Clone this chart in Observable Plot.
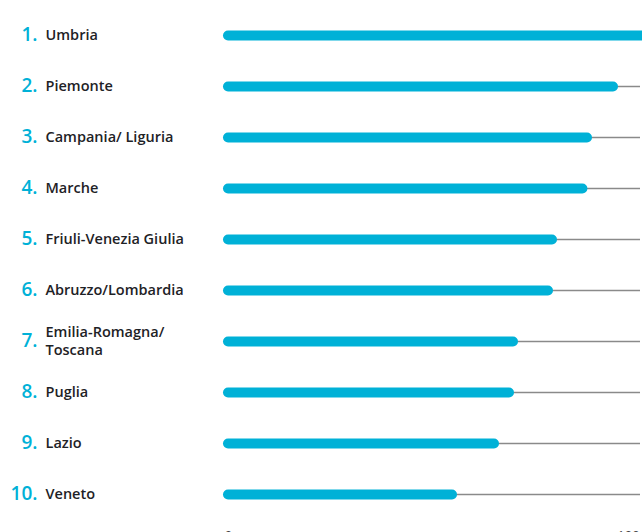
<!DOCTYPE html>
<html>
<head>
<meta charset="utf-8">
<script src="https://cdn.jsdelivr.net/npm/d3@7"></script>
<script src="https://cdn.jsdelivr.net/npm/@observablehq/plot@0.6"></script>
<style>
  html, body { margin: 0; padding: 0; background: #fff; overflow: hidden; }
  #chart svg { display: block; }
</style>
</head>
<body>
<div id="chart"></div>
<script>
const ranks = ["1.", "2.", "3.", "4.", "5.", "6.", "7.", "8.", "9.", "10."];
const regions = ["Umbria", "Piemonte", "Campania/ Liguria", "Marche", "Friuli-Venezia Giulia",
  "Abruzzo/Lombardia", "Emilia-Romagna/\nToscana", "Puglia", "Lazio", "Veneto"];
const values = [104, 96.25, 89.75, 88.6, 81, 80, 71.25, 70.25, 66.5, 56];
const trackEnd = 103;
const axisTicks = [0, 100];

const data = regions.map((r, i) => ({ region: r, rank: ranks[i], value: values[i] }));

const chart = Plot.plot({
  width: 642,
  height: 560,
  marginLeft: 228,
  marginRight: 0,
  marginTop: 0,
  marginBottom: 40,
  style: { fontFamily: "'Open Sans', sans-serif", color: "#222", background: "#fff" },
  x: { domain: [0, 103.5], axis: null },
  y: { type: "point", domain: regions, range: [34, 494.5], padding: 0, axis: null },
  marks: [
    Plot.ruleY(data, { y: "region", x1: "value", x2: trackEnd, stroke: "#8a8a8a", strokeWidth: 1.5 }),
    Plot.ruleY(data, { y: "region", x1: 0, x2: "value", stroke: "#00b1d7", strokeWidth: 10, strokeLinecap: "round" }),
    Plot.text(data, { y: "region", x: 0, dx: -191, dy: -1, text: "rank", textAnchor: "end", fill: "#00b1d7",
      fontSize: 19, fontWeight: 600 }),
    Plot.text(data, { y: "region", x: 0, dx: -183, dy: -1, text: "region", textAnchor: "start", fill: "#1e2226",
      fontSize: 14.5, fontWeight: 600, lineHeight: 1.22 }),
    Plot.axisX({ ticks: axisTicks, tickSize: 0, tickPadding: 10, fontSize: 13, fill: "#444", label: null })
  ]
});
document.getElementById("chart").appendChild(chart);
</script>
</body>
</html>
